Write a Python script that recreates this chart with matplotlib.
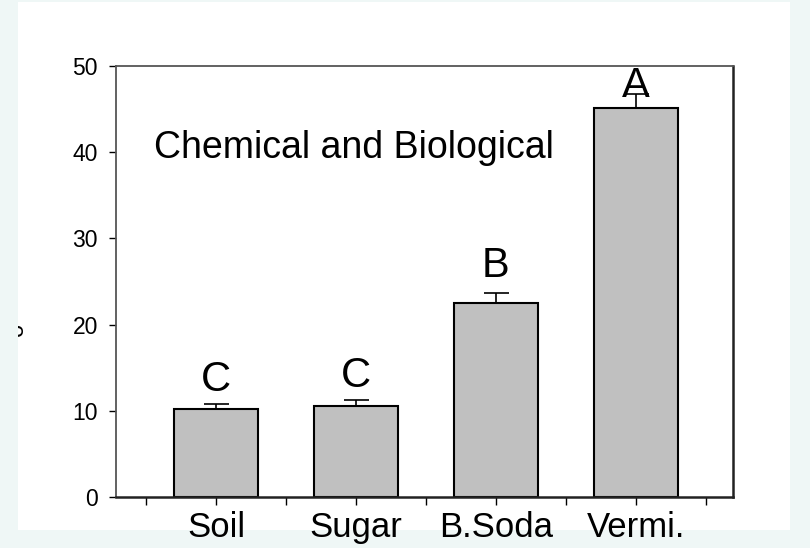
import matplotlib
matplotlib.use('Agg')
import matplotlib.pyplot as plt
from matplotlib.patches import Rectangle

# data
categories = ['Soil', 'Sugar', 'B.Soda', 'Vermi.']
means = [10.2, 10.5, 22.5, 45.1]
errors = [0.6, 0.75, 1.15, 1.7]
letters = ['C', 'C', 'B', 'A']
letter_y = [11.3, 11.7, 24.5, 45.3]

plt.rcParams['font.family'] = ['Liberation Sans', 'DejaVu Sans']

fig = plt.figure(figsize=(8.1, 5.48), dpi=100)
fig.patch.set_facecolor('#eff7f6')

# white slide panel behind the chart
panel = Rectangle((0.0222, 0.0328), 0.9531, 0.9636, transform=fig.transFigure,
                  facecolor='white', edgecolor='none', zorder=-5)
fig.patches.append(panel)

# clipped fragment of an axis label at the panel edge
frag = fig.text(0.0205, 0.398, 'o', rotation=90, fontsize=17, ha='center', va='center')
frag.set_clip_path(panel)

ax = fig.add_axes([0.1432, 0.0931, 0.7617, 0.7865])
ax.set_facecolor('white')

x = list(range(len(categories)))
ax.bar(x, means, width=0.6, color='#c0c0c0', edgecolor='black', linewidth=1.5, zorder=2)
ax.errorbar(x, means, yerr=[[0] * len(errors), errors], fmt='none', ecolor='black',
            elinewidth=1.2, capsize=9, capthick=1.2, zorder=3)

for xi, lab, ly in zip(x, letters, letter_y):
    ax.text(xi, ly, lab, ha='center', va='bottom', fontsize=30, zorder=4)

ax.text(0.062, 0.81, 'Chemical and Biological', transform=ax.transAxes,
        fontsize=27, ha='left', va='center')

ax.set_xlim(-0.714, 3.693)
ax.set_ylim(0, 50)
ax.set_yticks([0, 10, 20, 30, 40, 50])
ax.set_xticks([-0.5, 0, 0.5, 1, 1.5, 2, 2.5, 3, 3.5])
ax.set_xticklabels(['', categories[0], '', categories[1], '', categories[2], '',
                    categories[3], ''])
ax.tick_params(axis='y', labelsize=16.5, length=5, width=1, pad=8, colors='black')
ax.tick_params(axis='x', labelsize=25, length=6, width=1, pad=4, colors='black')

for side in ['left', 'top']:
    ax.spines[side].set_color('#555555')
    ax.spines[side].set_linewidth(1.3)
for side in ['bottom', 'right']:
    ax.spines[side].set_color('#222222')
    ax.spines[side].set_linewidth(1.8)

fig.savefig('out.png', dpi=100, facecolor=fig.get_facecolor())
